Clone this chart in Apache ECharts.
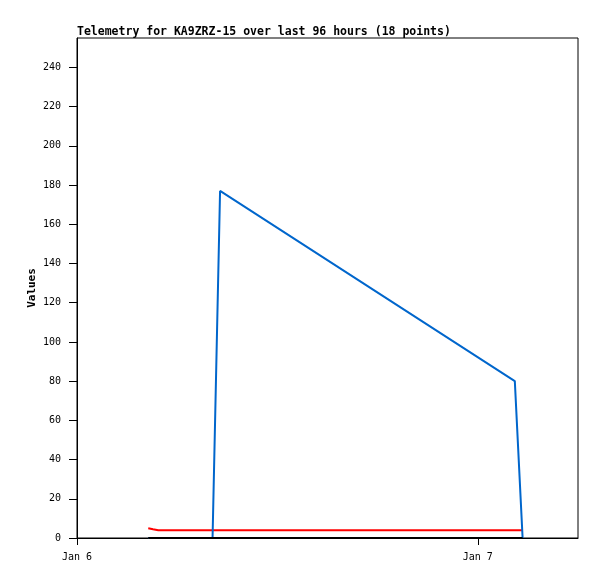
<!DOCTYPE html>
<html>
<head>
<meta charset="utf-8">
<script src="https://cdn.jsdelivr.net/npm/echarts@6/dist/echarts.min.js"></script>
<style>
  html, body { margin: 0; padding: 0; background: #fff; }
  #telemetry { width: 597px; height: 579px; }
</style>
</head>
<body>
<div id="telemetry"></div>
<script>
// telemetry plot, KA9ZRZ-15

var times = [
    '2025-01-06T04:16:00Z',
    '2025-01-06T04:33:00Z',
    '2025-01-06T04:52:00Z',
    '2025-01-06T08:07:00Z',
    '2025-01-06T08:34:00Z',
    '2025-01-07T02:13:00Z',
    '2025-01-07T02:41:00Z'
];
var blueValues  = [0, 0, 0, 0, 177, 80, 0];
var redValues   = [5, 4.5, 4, 4, 4, 4, 4];
var blackValues = [0, 0, 0, 0, 0, 0, 0];

var dayTicks = ['2025-01-06T00:00:00Z', '2025-01-07T00:00:00Z'];
var dayLabels = ['Jan 6', 'Jan 7'];
var yTicks = [0, 20, 40, 60, 80, 100, 120, 140, 160, 180, 200, 220, 240];

var DAY = 86400000;
var xMin = Date.parse(dayTicks[0]);
var xMax = xMin + 30 * 3600000;
var dayMs = dayTicks.map(function (d) { return Date.parse(d); });

function pairs(vals) {
    return vals.map(function (v, i) { return [Date.parse(times[i]), v]; });
}

var mono = 'DejaVu Sans Mono';

var option = {
    animation: false,
    title: {
        text: 'Telemetry for KA9ZRZ-15 over last 96 hours (18 points)',
        left: 72,
        top: 21,
        textStyle: {
            fontFamily: mono,
            fontSize: 11.5,
            fontWeight: 'bold',
            color: '#000'
        }
    },
    // y axis title, placed by hand (axis name kept getting pushed left)
    graphic: [{
        type: 'text',
        x: 32,
        y: 288,
        rotation: Math.PI / 2,
        style: {
            text: 'Values',
            align: 'center',
            verticalAlign: 'middle',
            fontFamily: mono,
            fontSize: 11,
            fontWeight: 'bold',
            fill: '#000'
        }
    }],
    grid: {
        left: 77,
        top: 38,
        right: 19,
        bottom: 41,
        show: true,
        borderColor: '#000',
        borderWidth: 1,
        containLabel: false
    },
    xAxis: {
        type: 'value',
        min: xMin,
        max: xMax,
        interval: DAY,
        splitLine: { show: false },
        axisLine: { lineStyle: { color: '#000', width: 1 } },
        axisTick: {
            length: 7,
            lineStyle: { color: '#000' },
            customValues: dayMs
        },
        axisLabel: {
            customValues: dayMs,
            margin: 14,
            fontFamily: mono,
            fontSize: 10,
            color: '#000',
            formatter: function (v) {
                var i = dayMs.indexOf(v);
                return i >= 0 ? dayLabels[i] : '';
            }
        }
    },
    yAxis: {
        type: 'value',
        min: 0,
        max: 255,
        interval: 20,
        splitLine: { show: false },
        axisLine: { lineStyle: { color: '#000', width: 1 } },
        axisTick: {
            length: 8,
            lineStyle: { color: '#000' },
            customValues: yTicks
        },
        axisLabel: {
            customValues: yTicks,
            margin: 16,
            fontFamily: mono,
            fontSize: 10,
            color: '#000'
        }
    },
    series: [
        {
            name: 'red',
            type: 'line',
            data: pairs(redValues),
            symbol: 'none',
            lineStyle: { color: '#ff0000', width: 2 },
            itemStyle: { color: '#ff0000' }
        },
        {
            name: 'blue',
            type: 'line',
            data: pairs(blueValues),
            symbol: 'none',
            lineStyle: { color: '#0066cc', width: 2 },
            itemStyle: { color: '#0066cc' }
        },
        {
            name: 'black',
            type: 'line',
            data: pairs(blackValues),
            symbol: 'none',
            lineStyle: { color: '#000', width: 2 },
            itemStyle: { color: '#000' }
        }
    ]
};

var myChart = echarts.init(document.getElementById('telemetry'));
myChart.setOption(option);
</script>
</body>
</html>
